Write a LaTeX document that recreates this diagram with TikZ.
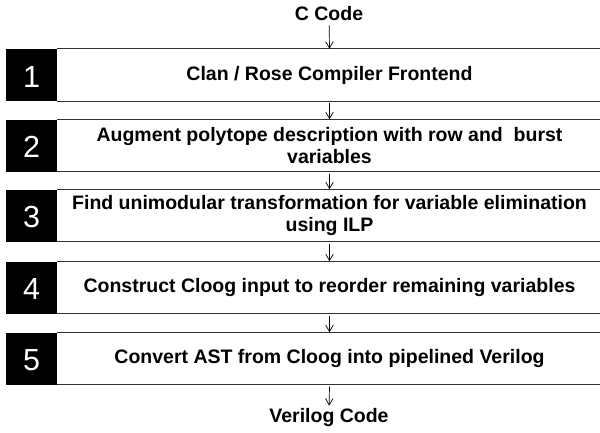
\documentclass[tikz,border=0pt]{standalone}
\usepackage{fontspec}
\setmainfont{Liberation Sans}
\usetikzlibrary{arrows.meta}
\newcommand{\stepfont}{\fontsize{19.5}{22.5}\selectfont\bfseries}
\newcommand{\numfont}{\fontsize{30.5}{32}\selectfont}
\tikzset{
  stepbox/.style={minimum width=545pt,minimum height=52pt,inner sep=0pt,align=center,font=\stepfont},
  numbox/.style={fill=black,text=white,minimum width=51pt,minimum height=52pt,inner sep=0pt,
    text height=24.5pt,text depth=0pt,font=\numfont},
  edge/.style={black!80,line width=1.3pt},
  flow/.style={-{Straight Barb[length=6.5pt,width=7.5pt]},line width=0.7pt,shorten <=2pt},
  io/.style={font=\stepfont,inner sep=2pt}
}
\begin{document}
\begin{tikzpicture}[x=1pt,y=-1pt]
      \clip (0,0) rectangle (600,432);
      \fill[white] (0,0) rectangle (600,432);
      \node[io] (code) at (329,14) {C Code};
      \foreach \i/\c/\txt in {1/75/{Clan / Rose Compiler Frontend},
          2/145.5/{Augment polytope description with row and~ burst\\variables},
          3/215.5/{Find unimodular transformation for variable elimination\\using ILP},
          4/287.5/{Construct Cloog input to reorder remaining variables},
          5/358.5/{Convert AST from Cloog into pipelined Verilog}} {
        \node[stepbox] (b\i) at (329.5,\c) {\txt};
        \draw[edge] (b\i.north west) -- (b\i.north east);
        \draw[edge] (b\i.south west) -- (b\i.south east);
        \node[numbox] (n\i) at (31.5,\c) {\i};
      }
      \node[io] (verilog) at (329,417) {Verilog Code};
      \draw[flow] (code) -- (b1.north);
      \foreach \a/\b in {1/2,2/3,3/4,4/5}
        \draw[flow] (b\a.south) -- (b\b.north);
      \draw[flow] (b5.south) -- (verilog);
    \end{tikzpicture}
\end{document}
